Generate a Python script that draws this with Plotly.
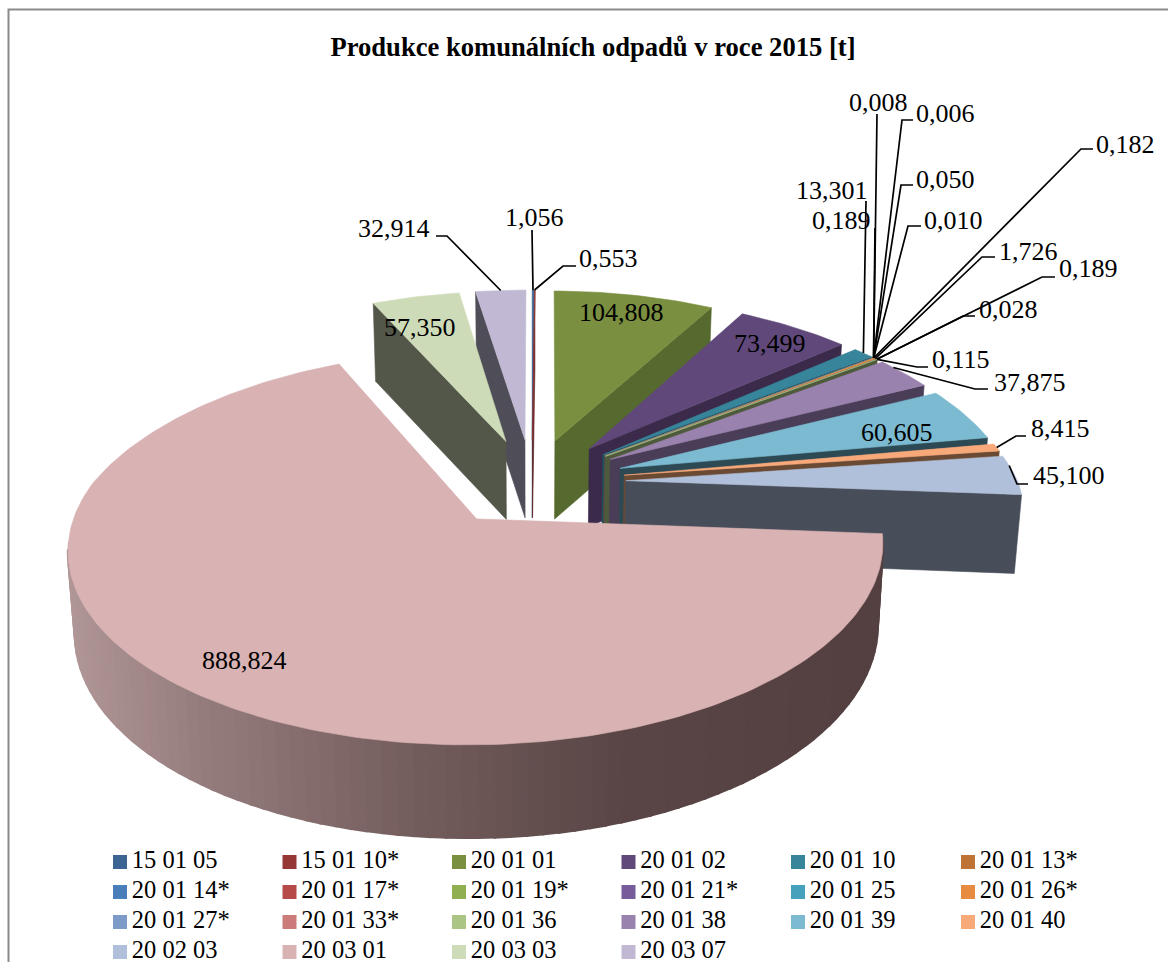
import math
import plotly.graph_objects as go

# ---------- data ----------
categories = ["15 01 05", "15 01 10*", "20 01 01", "20 01 02", "20 01 10", "20 01 13*",
              "20 01 14*", "20 01 17*", "20 01 19*", "20 01 21*", "20 01 25", "20 01 26*",
              "20 01 27*", "20 01 33*", "20 01 36", "20 01 38", "20 01 39", "20 01 40",
              "20 02 03", "20 03 01", "20 03 03", "20 03 07"]
values = [1.056, 0.553, 104.808, 73.499, 13.301, 0.189, 0.008, 0.006, 0.050, 0.010, 0.182,
          1.726, 0.189, 0.028, 0.115, 37.875, 60.605, 8.415, 45.100, 888.824, 57.350, 32.914]
colors = ["#3D6594", "#953735", "#7A8F40", "#60497A", "#37859B", "#BE7234", "#4A7EBB",
          "#B54A48", "#8FAF50", "#775B9B", "#46A2BC", "#E68B3F", "#7D9BC9", "#CB7B7A",
          "#AAC584", "#9A82AF", "#7BBAD0", "#F8A97A", "#B0C0DA", "#D9B2B3", "#CEDBB8", "#C1B9D3"]
face_colors = {2: "#56692E", 3: "#3B2A4A", 15: "#4A3D58", 16: "#2D4A54", 17: "#6B4A34",
               18: "#474E59", 20: "#53574A", 21: "#4F4D58"}
title = "Produkce komunálních odpadů v roce 2015 [t]"
FONT = "Liberation Serif"
W, H = 1168, 962

# ---------- perspective projection of the tilted, exploded pie ----------
CX, CY = 532, 482          # centre of the un-exploded pie on the page
EXPLODE = 0.24             # explosion as a fraction of the radius
RX, RY = 392, 182.2
KX_FAR, KX_NEAR, KY = 0.17, 0.14, 0.1425      # perspective strength
DEPTH, DEPTH_NEAR = 78, 15
BOTTOM_SHRINK = 0.985


def shade(h):
    r, g, b = (int(h[i:i + 2], 16) for i in (1, 3, 5))
    lum = (0.3 * r + 0.59 * g + 0.11 * b) / 255
    f = 0.87 - 0.58 * lum
    return f"rgb({r * f:.0f},{g * f:.0f},{b * f:.0f})"


def project(gx, gy):
    kx = KX_FAR if gy > 0 else KX_NEAR
    return CX + RX * gx / (1 + kx * gy), CY - RY * gy / (1 + KY * gy)


def drop(gy):
    return DEPTH + (DEPTH_NEAR * -gy / 1.2 if gy < 0 else 0)


total = sum(values)
slices = []
angle = 0.0
for i, (name, val, col) in enumerate(zip(categories, values, colors)):
    a = angle
    b = angle + val / total * 2 * math.pi
    m = (a + b) / 2
    slices.append(dict(name=name, a=a, b=b, m=m, col=col, face=face_colors.get(i, shade(col)),
                       ox=EXPLODE * math.sin(m), oy=EXPLODE * math.cos(m)))
    angle = b


def top_point(s, theta, r=1.0):
    return project(s["ox"] + r * math.sin(theta), s["oy"] + r * math.cos(theta))


def bottom_point(s, theta, r=1.0):
    gy = s["oy"] + r * math.cos(theta)
    x, y = top_point(s, theta, r)
    return CX + (x - CX) * BOTTOM_SHRINK, y + drop(gy)


def poly(fig, xs, ys, color, lw=0.6):
    fig.add_trace(go.Scatter(x=xs + xs[:1], y=ys + ys[:1], mode="lines", fill="toself",
                             fillcolor=color, line=dict(color=color, width=lw),
                             hoverinfo="skip", showlegend=False))


def wall_color(x):
    stops = [(70, (176, 150, 150)), (200, (150, 125, 125)), (420, (115, 92, 92)),
             (620, (90, 70, 70)), (880, (84, 64, 64))]
    for (x0, c0), (x1, c1) in zip(stops, stops[1:]):
        if x <= x1:
            t = max(0, (x - x0) / (x1 - x0))
            return "rgb(%d,%d,%d)" % tuple(c0[i] + (c1[i] - c0[i]) * t for i in range(3))
    return "rgb(84,64,64)"


fig = go.Figure()

for s in sorted(slices, key=lambda q: -q["oy"]):
    a, b = s["a"], s["b"]
    vx, vy = top_point(s, 0, 0)
    wx, wy = bottom_point(s, 0, 0)
    # radial cut faces that look towards the viewer
    for th, visible in ((a, math.sin(a) < 0), (b, math.sin(b) > 0)):
        if visible:
            px, py = top_point(s, th)
            qx, qy = bottom_point(s, th)
            poly(fig, [vx, px, qx, wx], [vy, py, qy, wy], s["face"])
    # outer wall, front half only, for slices that really show it
    lo, hi = max(a, math.pi / 2), min(b, 3 * math.pi / 2 - 0.12)
    if hi - lo > 0.2:
        n = int((hi - lo) / 0.035)
        for i in range(n):
            t0 = lo + (hi - lo) * i / n
            t1 = lo + (hi - lo) * (i + 1) / n
            x0, y0 = top_point(s, t0)
            x1, y1 = top_point(s, t1)
            x2, y2 = bottom_point(s, t1)
            x3, y3 = bottom_point(s, t0)
            poly(fig, [x0, x1, x2, x3], [y0, y1, y2, y3], wall_color((x0 + x1) / 2),
                 lw=0.6 if i in (0, n - 1) else 2.5)
    # top surface
    n = max(2, int((b - a) / 0.02))
    pts = [top_point(s, a + (b - a) * i / n) for i in range(n + 1)]
    poly(fig, [vx] + [p[0] for p in pts], [vy] + [p[1] for p in pts], s["col"])

# ---------- data labels and leader lines ----------
# value index -> (label centre x, y, leader waypoints from the label towards the slice)
leaders = {
    0: (534, 217, [(532, 230)]),
    1: (608, 258, [(576, 266), (563, 266)]),
    4: (832, 190, [(866, 201)]),
    5: (841, 220, [(875, 228)]),
    6: (878, 102, [(877, 114)]),
    7: (945, 113, [(913, 120), (902, 120)]),
    8: (945, 179, [(913, 185), (901, 185)]),
    9: (953, 220, [(921, 226), (908, 226)]),
    10: (1125, 144, [(1093, 149), (1081, 149)]),
    11: (1028, 251, [(995, 257), (982, 257)]),
    12: (1088, 268, [(1055, 277), (1042, 277)]),
    13: (1008, 309, [(975, 316), (963, 316)]),
    14: (961, 359, [(928, 367), (917, 367)]),
    15: (1030, 382, [(988, 389), (975, 389)]),
    17: (1060, 428, [(1026, 436), (1016, 436)]),
    18: (1068.5, 475, [(1028, 484), (1017, 484)]),
    21: (394, 228, [(436, 236), (447, 236)]),
}
inside = {2: (621, 312), 3: (770, 343), 16: (897, 432), 19: (244.5, 660), 20: (420, 327)}


def fmt(v):
    return f"{v:.3f}".replace(".", ",")


annotations = []
for idx, (tx, ty, way) in leaders.items():
    s = slices[idx]
    if idx in (15, 18):
        ex, ey = top_point(s, s["a"] + (s["m"] - s["a"]) * 0.5)
    else:
        ex, ey = top_point(s, s["m"])
    fig.add_trace(go.Scatter(x=[p[0] for p in way] + [ex], y=[p[1] for p in way] + [ey],
                             mode="lines", line=dict(color="black", width=1.7),
                             hoverinfo="skip", showlegend=False))
    annotations.append(dict(x=tx, y=ty, text=fmt(values[idx])))
for idx, (tx, ty) in inside.items():
    annotations.append(dict(x=tx, y=ty, text=fmt(values[idx])))

# ---------- legend grid ----------
legend_cols = [120, 289.5, 459, 628.5, 798, 968]
legend_rows = [862, 892, 922, 952]
for i, s in enumerate(slices):
    col, row = i % 6, i // 6
    fig.add_trace(go.Scatter(x=[legend_cols[col]], y=[legend_rows[row]], mode="markers+text",
                             name=s["name"], text=["\u200a" + s["name"]], textposition="middle right",
                             textfont=dict(family=FONT, size=24.5, color="black"),
                             marker=dict(symbol="square", size=14, color=s["col"]),
                             showlegend=False, hoverinfo="name"))

fig.update_layout(
    width=W, height=H, margin=dict(l=0, r=0, t=0, b=0), autosize=False,
    paper_bgcolor="white", plot_bgcolor="white", showlegend=False,
    title=dict(text=f"<b>{title}</b>", x=593 / W, xanchor="center", y=1 - 47 / H, yanchor="middle",
               font=dict(family=FONT, size=26.6, color="black")),
    xaxis=dict(range=[0, W], visible=False, fixedrange=True),
    yaxis=dict(range=[H, 0], visible=False, fixedrange=True),
    annotations=[dict(a, xref="x", yref="y", showarrow=False,
                      font=dict(family=FONT, size=26, color="black")) for a in annotations],
    shapes=[dict(type="rect", xref="x", yref="y", x0=8.5, y0=9.5, x1=W + 20, y1=H + 20,
                 line=dict(color="#8a8a8a", width=2), layer="below")],
)

fig.write_html("out.html", config={"displayModeBar": False},
               post_script="document.body.style.margin='0';")
